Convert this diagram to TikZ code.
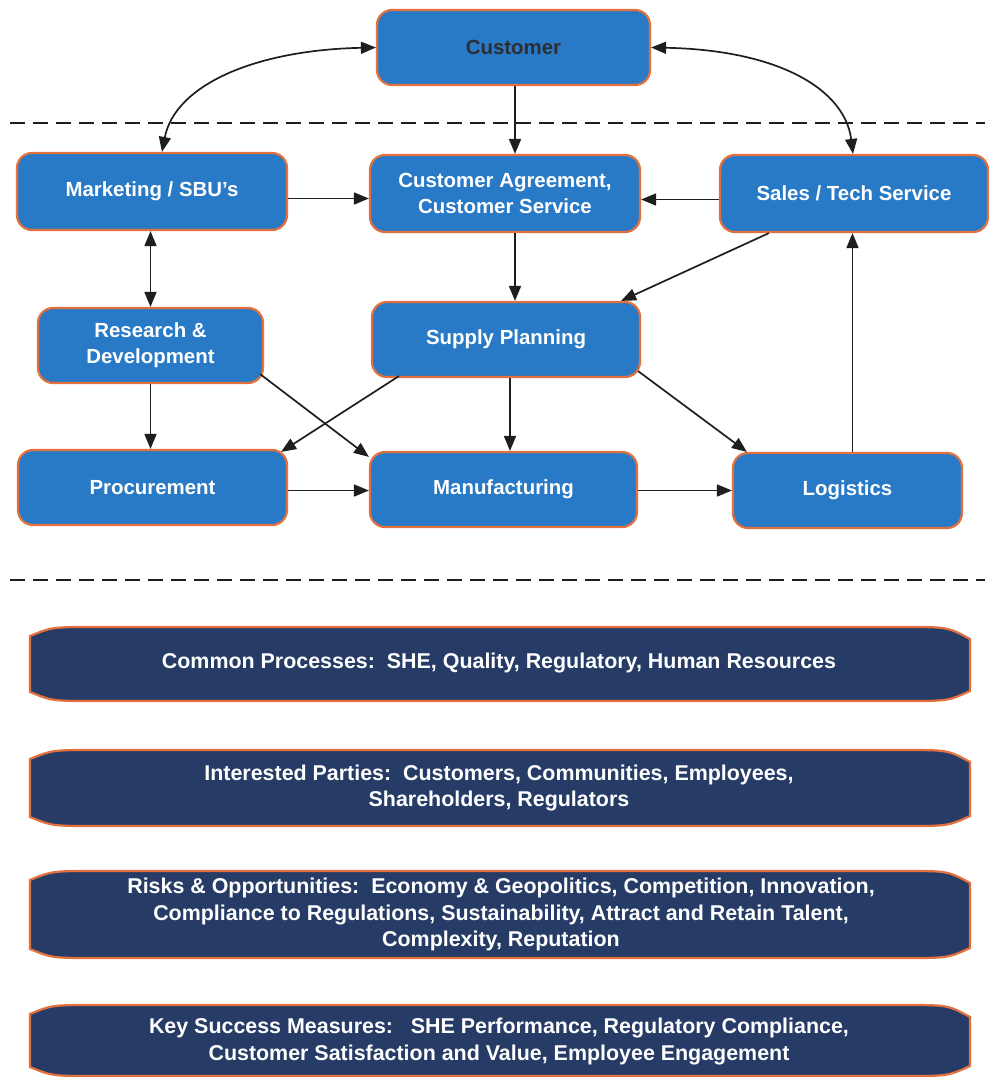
\documentclass[tikz,border=0pt]{standalone}
\usepackage{fontspec}
\setmainfont{Liberation Sans}
\usetikzlibrary{arrows.meta,calc}
\definecolor{boxblue}{RGB}{40,122,198}
\definecolor{boxedge}{RGB}{228,112,62}
\definecolor{navy}{RGB}{38,60,102}
\definecolor{linegray}{RGB}{30,30,30}
\definecolor{darktext}{RGB}{45,45,50}
\newcommand\drawbanner[2]{%
  \path[ban] (30,#1+9) -- (30,#2-9) .. controls (52,#2) .. (95,#2) -- (905,#2)
    .. controls (948,#2) .. (970,#2-10) -- (970,#1+12) .. controls (948,#1) .. (905,#1)
    -- (95,#1) .. controls (52,#1) .. (30,#1+9) -- cycle;}
\begin{document}
\begin{tikzpicture}[x=1bp,y=-1bp,
  blk/.style={draw=boxedge, line width=2.2bp, fill=boxblue, rounded corners=15bp,
    minimum height=75bp, text=white, font=\fontsize{20.5}{26}\selectfont\bfseries,
    align=center, inner sep=0pt},
  arr/.style={-{Triangle[length=15bp,width=12bp]}, line width=1.7bp, draw=linegray},
  darr/.style={{Triangle[length=15bp,width=12bp]}-{Triangle[length=15bp,width=12bp]}, line width=1.7bp, draw=linegray},
  sep/.style={dash pattern=on 15bp off 8bp, line width=1.6bp, draw=linegray},
  ban/.style={draw=boxedge, line width=2.2bp, fill=navy},
  bantext/.style={text=white, font=\fontsize{21.5}{26.5}\selectfont\bfseries, align=center, inner sep=0pt}
]
\useasboundingbox (0,0) rectangle (989,1077);
\fill[white] (0,0) rectangle (989,1077);

% separators
\draw[sep] (10,123) -- (985,123);
\draw[sep] (10,580) -- (985,580);

% process nodes
\node[blk, minimum width=273bp, text=darktext] (cust) at (513.5,47.5) {Customer};
\node[blk, minimum width=270bp, minimum height=77bp] (mkt) at (152,191.5) {Marketing / SBU’s};
\node[blk, minimum width=270bp, minimum height=77bp] (ca) at (505,193.5) {Customer Agreement,\\Customer Service};
\node[blk, minimum width=268bp, minimum height=77bp] (sales) at (854,193.5) {Sales / Tech Service};
\node[blk, minimum width=225bp] (rd) at (150.5,345.5) {Research \&\\Development};
\node[blk, minimum width=268bp] (sp) at (506,339.5) {Supply Planning};
\node[blk, minimum width=269bp] (proc) at (152.5,487.5) {Procurement};
\node[blk, minimum width=267bp] (mfg) at (503.5,489.5) {Manufacturing};
\node[blk, minimum width=229bp] (log) at (847.5,490.5) {Logistics};

% connectors
\draw[darr] (cust.west) .. controls (255,50) and (175,85) .. ([xshift=10bp]mkt.north);
\draw[darr] (cust.east) .. controls (780,50) and (845,90) .. ([xshift=-1bp]sales.north);
\draw[arr] ([xshift=10bp]ca.north |- cust.south) -- ([xshift=10bp]ca.north);
\draw[arr] ([yshift=-7bp]mkt.east) -- ([yshift=-7bp]mkt.east -| ca.west);
\draw[arr] ([yshift=-6bp]sales.west) -- ([yshift=-6bp]sales.west -| ca.east);
\draw[darr] (rd.north |- mkt.south) -- (rd.north);
\draw[arr] ([xshift=10bp]ca.south) -- ([xshift=10bp]ca.south |- sp.north);
\draw[arr] ([xshift=50bp]sales.south west) -- ([xshift=-20bp]sp.north east);
\draw[arr] (rd.south) -- (rd.south |- proc.north);
\draw[arr] ([shift={(-4bp,10bp)}]rd.south east) -- ([yshift=-6bp]mfg.north west);
\draw[arr] ([shift={(28bp,2bp)}]sp.south west) -- ([shift={(-7bp,-3bp)}]proc.north east);
\draw[arr] ([xshift=4bp]sp.south) -- ([xshift=4bp]sp.south |- mfg.north);
\draw[arr] ([shift={(-3bp,7bp)}]sp.south east) -- ([xshift=15bp]log.north west);
\draw[arr] ([yshift=-3bp]proc.east) -- ([yshift=-3bp]proc.east -| mfg.west);
\draw[arr] ([yshift=-1bp]mfg.east) -- ([yshift=-1bp]mfg.east -| log.west);
\draw[arr] ([xshift=5bp]log.north) -- ([xshift=5bp]log.north |- sales.south);

% banners
\drawbanner{627}{701}
\node[bantext] (b1) at (499,663) {Common Processes:\ \ SHE, Quality, Regulatory, Human Resources};
\drawbanner{750}{826}
\node[bantext] (b2) at (499,788) {Interested Parties:\ \ Customers, Communities, Employees,\\Shareholders, Regulators};
\drawbanner{871}{958}
\node[bantext] (b3) at (501,914.5) {Risks \& Opportunities:\ \ Economy \& Geopolitics, Competition, Innovation,\\Compliance to Regulations, Sustainability, Attract and Retain Talent,\\Complexity, Reputation};
\drawbanner{1005}{1076}
\node[bantext] (b4) at (499,1041.5) {Key Success Measures:\ \ \ SHE Performance, Regulatory Compliance,\\Customer Satisfaction and Value, Employee Engagement};
\end{tikzpicture}
\end{document}
